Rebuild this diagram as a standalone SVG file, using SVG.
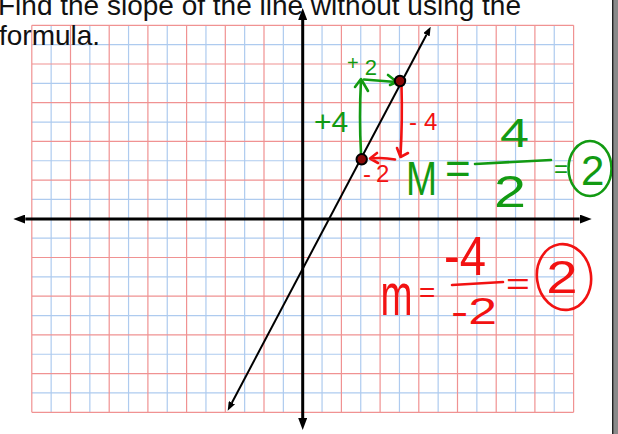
<svg xmlns="http://www.w3.org/2000/svg" width="618" height="434" viewBox="0 0 618 434">
<style>
.t{font-family:"Liberation Sans",Arial,sans-serif}
.title{font-size:28px;fill:#111}
.g{fill:#129a12}
.r{fill:#f21212}
.gs{stroke:#129a12;fill:none;stroke-width:2.6;stroke-linecap:round;stroke-linejoin:round}
.rs{stroke:#f21212;fill:none;stroke-width:2.6;stroke-linecap:round;stroke-linejoin:round}
.gridr{stroke:#f09292;stroke-width:1.2;fill:none}
.gridb{stroke:#aecbef;stroke-width:1.2;fill:none}
.axis{stroke:#000;stroke-width:3;fill:none}
.ln{stroke:#000;stroke-width:2;fill:none}
.pt{fill:#8a0808;stroke:#000;stroke-width:2}
</style>
<defs>
<marker id="ah" viewBox="0 0 12 9" refX="0" refY="4.5" markerWidth="12" markerHeight="9" markerUnits="userSpaceOnUse" orient="auto-start-reverse"><path d="M0,0 L12,4.5 L0,9 Z" fill="#000"/></marker>
<marker id="ahs" viewBox="0 0 9 7" refX="0" refY="3.5" markerWidth="9" markerHeight="7" markerUnits="userSpaceOnUse" orient="auto-start-reverse"><path d="M0,0 L9,3.5 L0,7 Z" fill="#000"/></marker>
</defs>
<rect width="618" height="434" fill="#fff"/>
<g id="grid">
<path class="gridb" d="M51.15,25.3V412.3M89.85,25.3V412.3M128.55,25.3V412.3M167.25,25.3V412.3M205.95,25.3V412.3M244.65,25.3V412.3M283.35,25.3V412.3M322.05,25.3V412.3M360.75,25.3V412.3M399.45,25.3V412.3M438.15,25.3V412.3M476.85,25.3V412.3M515.55,25.3V412.3M554.25,25.3V412.3M31.8,44.65H573.6M31.8,83.35H573.6M31.8,122.05H573.6M31.8,160.75H573.6M31.8,199.45H573.6M31.8,238.15H573.6M31.8,276.85H573.6M31.8,315.55H573.6M31.8,354.25H573.6M31.8,392.95H573.6"/>
<path class="gridr" d="M31.8,25.3V412.3M70.5,25.3V412.3M109.2,25.3V412.3M147.9,25.3V412.3M186.6,25.3V412.3M225.3,25.3V412.3M264,25.3V412.3M341.4,25.3V412.3M380.1,25.3V412.3M418.8,25.3V412.3M457.5,25.3V412.3M496.2,25.3V412.3M534.9,25.3V412.3M573.6,25.3V412.3M31.8,25.3H573.6M31.8,64H573.6M31.8,102.7H573.6M31.8,141.4H573.6M31.8,180.1H573.6M31.8,257.5H573.6M31.8,296.2H573.6M31.8,334.9H573.6M31.8,373.6H573.6M31.8,412.3H573.6"/>
</g>
<g id="title" class="t title">
<text x="-2" y="15">Find the slope of the line without using the</text>
<text x="-1" y="45">formula.</text>
</g>
<g id="connectors">
<line id="x-axis" class="axis" x1="25.3" y1="219" x2="579.7" y2="219" marker-start="url(#ah)" marker-end="url(#ah)"/>
<line id="y-axis" class="axis" x1="302.7" y1="20" x2="302.7" y2="418" marker-start="url(#ah)" marker-end="url(#ah)"/>
<line id="graph-line" class="ln" x1="231.9" y1="402.7" x2="426.5" y2="34.7" marker-start="url(#ahs)" marker-end="url(#ahs)"/>
<path id="rise-green" class="gs" d="M361,153 Q359,118 361,80 M355,87 L361,79 L368,91"/>
<path id="run-green" class="gs" d="M364,79.5 L396,82 M388,75 L397,82 L390,85"/>
<path id="rise-red" class="rs" d="M401.5,86 Q402.5,120 400.5,156 M397,148 L400.5,157 L408,153"/>
<path id="run-red" class="rs" d="M395,159.5 Q383,157 370,158.5 M377,153 L370,158.5 L378,163"/>
</g>
<g id="point-a"><circle class="pt" cx="361.7" cy="159.3" r="5.2"/></g>
<g id="point-b"><circle class="pt" cx="400" cy="81" r="5.2"/></g>
<g id="labels-green" class="t g">
<text x="347" y="70" font-size="20">+<tspan dx="6" y="75" font-size="22">2</tspan></text>
<text x="314" y="132" font-size="30">+4</text>
<text x="406" y="195" font-size="48" textLength="31" lengthAdjust="spacingAndGlyphs">M</text>
<text x="445" y="183.6" font-size="44">=</text>
<text x="500" y="147" font-size="40" textLength="29" lengthAdjust="spacingAndGlyphs">4</text>
<text x="494" y="207" font-size="44" textLength="32" lengthAdjust="spacingAndGlyphs">2</text>
<text x="554" y="177" font-size="24">=</text>
<text x="581" y="185" font-size="42">2</text>
</g>
<g id="marks-green">
<line class="gs" x1="475" y1="164" x2="551" y2="160"/>
<ellipse class="gs" cx="590" cy="168.5" rx="21.5" ry="27.5"/>
</g>
<g id="labels-red" class="t r">
<text x="409" y="130" font-size="24">-<tspan dx="7">4</tspan></text>
<text x="363" y="182" font-size="24">-<tspan dx="5">2</tspan></text>
<text transform="translate(380.5 315) scale(0.64 1)" font-size="60">m</text>
<text x="419" y="301.7" font-size="28">=</text>
<text x="444" y="275" font-size="56" textLength="42" lengthAdjust="spacingAndGlyphs">-4</text>
<text x="451" y="324" font-size="36" textLength="46" lengthAdjust="spacingAndGlyphs">-2</text>
<text x="506" y="294.3" font-size="30" textLength="23.8" lengthAdjust="spacingAndGlyphs">=</text>
<text x="546.3" y="293" font-size="46" textLength="31.4" lengthAdjust="spacingAndGlyphs">2</text>
</g>
<g id="marks-red">
<line class="rs" x1="452" y1="285" x2="503" y2="282"/>
<ellipse class="rs" cx="564" cy="277" rx="27" ry="33" transform="rotate(-8 564 277)"/>
</g>
<g id="border">
<rect x="612" y="0" width="6" height="434" fill="#8a8a8a"/>
<line x1="612.7" y1="0" x2="612.7" y2="434" stroke="#222" stroke-width="1.4"/>
</g>
</svg>
